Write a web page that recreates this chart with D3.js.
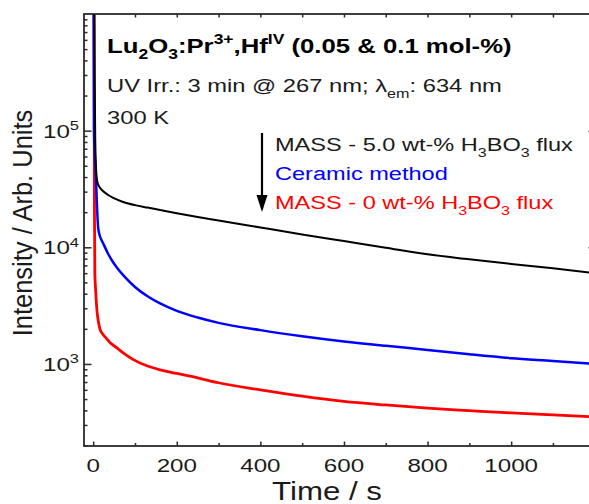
<!DOCTYPE html>
<html><head><meta charset="utf-8">
<script src="https://cdn.jsdelivr.net/npm/d3@7"></script>
<style>html,body{margin:0;padding:0;background:#fff;}svg{display:block;}text{font-family:"Liberation Sans",Arial,sans-serif;}</style>
</head><body>
<svg id="c" width="589" height="504"></svg>
<script>
// ---- data ----
const timeBlack = [2.5, 3.5, 5, 7, 9, 12, 16, 24, 35, 48, 70, 100, 130, 160, 200, 250, 300, 400, 500, 600, 700, 800, 900, 1000, 1100, 1200];
const valBlack  = [3e6, 3e5, 8e4, 4.6e4, 3.8e4, 3.45e4, 3.25e4, 3.02e4, 2.82e4, 2.65e4, 2.46e4, 2.3e4, 2.19e4, 2.09e4, 1.96e4, 1.82e4, 1.7e4, 1.48e4, 1.29e4, 1.13e4, 9900, 8700, 7900, 7200, 6600, 6000];
const timeBlue  = [1, 2, 4, 6.5, 9, 12, 16, 24, 35, 48, 56, 75, 100, 130, 160, 200, 250, 300, 400, 500, 600, 700, 800, 900, 1000, 1100, 1200];
const valBlue   = [3e6, 1e5, 6e4, 4e4, 2.3e4, 1.45e4, 1.25e4, 1.08e4, 8900, 7400, 6750, 5600, 4570, 3800, 3300, 2850, 2500, 2250, 1950, 1730, 1560, 1430, 1320, 1210, 1120, 1060, 1000];
const timeRed   = [1.5, 3, 4, 6, 8, 10, 13, 16, 24, 32, 40, 56, 75, 96, 130, 160, 200, 250, 300, 400, 500, 600, 700, 800, 900, 1000, 1100, 1200];
const valRed    = [3e6, 2e4, 6000, 4200, 3200, 2650, 2250, 2000, 1780, 1650, 1530, 1380, 1220, 1090, 960, 890, 830, 760, 690, 600, 530, 478, 445, 418, 398, 380, 366, 352];
const xMajorTicks = [0, 200, 400, 600, 800, 1000];
const xMinorTicks = [100, 300, 500, 700, 900, 1100];
const yMajorTicks = [1e3, 1e4, 1e5];
const yMajorExp   = ["3", "4", "5"];
const legendLabels = [
  [{t:"MASS - 5.0 wt-% H"},{t:"3",s:"sub"},{t:"BO"},{t:"3",s:"sub"},{t:" flux"}],
  [{t:"Ceramic method"}],
  [{t:"MASS - 0 wt-% H"},{t:"3",s:"sub"},{t:"BO"},{t:"3",s:"sub"},{t:" flux"}]
];
const seriesColors = ["#000000", "#0000ff", "#ff0000"];

// ---- layout ----
const SX = 1.25;
const svg = d3.select("#c");
const L = 84, R = 596, T = 14, B = 446;
const x = d3.scaleLinear().domain([-22, 1203]).range([L, R]);
const y = d3.scaleLog().domain([198, 1e6]).range([B, T]);

function rich(parent, px, py, segs, o) {
  const g = parent.append("g").attr("transform", `translate(${px},${py}) scale(${o.sx||SX},1)` + (o.rot ? ` rotate(${o.rot})` : ""));
  const t = g.append("text").attr("text-anchor", o.anchor || "start")
    .attr("font-size", o.size).attr("font-weight", o.weight || "normal").attr("fill", o.fill || "#1a1a1a");
  let cur = 0;
  segs.forEach(s => {
    const fs = s.s ? o.size * 0.68 : o.size;
    const target = s.s === "sub" ? o.size * 0.3 : s.s === "sup" ? -o.size * 0.42 : 0;
    t.append("tspan").attr("font-size", fs).attr("dy", target - cur).text(s.t);
    cur = target;
  });
  return t;
}

// minor y ticks
const yMinor = [];
[100, 1000, 10000, 100000].forEach(d => { for (let k = 2; k <= 9; k++) { const v = d * k; if (v >= 198 && v <= 1e6) yMinor.push(v); } });

function drawAxis(ax, tr) {
  const g = svg.append("g").attr("transform", tr).call(ax);
  g.select(".domain").remove();
  g.selectAll(".tick line").attr("stroke", "#2a2a2a").attr("stroke-width", 1.5);
  g.selectAll(".tick text").remove();
}
drawAxis(d3.axisBottom(x).tickValues(xMajorTicks).tickSize(-4.5), `translate(0,${B})`);
drawAxis(d3.axisBottom(x).tickValues(xMinorTicks).tickSize(-3), `translate(0,${B})`);
drawAxis(d3.axisTop(x).tickValues(xMajorTicks.concat(xMinorTicks)).tickSize(-3.5), `translate(0,${T})`);
drawAxis(d3.axisLeft(y).tickValues(yMajorTicks).tickSize(-7.5), `translate(${L},0)`);
drawAxis(d3.axisLeft(y).tickValues(yMinor).tickSize(-3.5), `translate(${L},0)`);
drawAxis(d3.axisRight(y).tickValues(yMajorTicks).tickSize(-7.5), `translate(${R},0)`);
drawAxis(d3.axisRight(y).tickValues(yMinor).tickSize(-3.5), `translate(${R},0)`);

// curves
svg.append("clipPath").attr("id", "clip").append("rect").attr("x", L).attr("y", T).attr("width", R - L).attr("height", B - T);
const line = d3.line().x(d => x(d[0])).y(d => y(d[1])).curve(d3.curveMonotoneX);
const series = [
  {t: timeRed, v: valRed, c: seriesColors[2], w: 2.8},
  {t: timeBlue, v: valBlue, c: seriesColors[1], w: 2.5},
  {t: timeBlack, v: valBlack, c: seriesColors[0], w: 2.0}
];
const cg = svg.append("g").attr("clip-path", "url(#clip)");
series.forEach(s => {
  cg.append("path").datum(s.t.map((t, i) => [t, s.v[i]])).attr("d", line)
    .attr("fill", "none").attr("stroke", s.c).attr("stroke-width", s.w).attr("stroke-linejoin", "round");
});

// frame
svg.append("rect").attr("x", L).attr("y", T).attr("width", R - L).attr("height", B - T)
  .attr("fill", "none").attr("stroke", "#2a2a2a").attr("stroke-width", 1.8);

// tick labels
xMajorTicks.forEach(v => rich(svg, x(v), 472, [{t: String(v)}], {size: 18.6, anchor: "middle", sx: 1.3}));
yMajorTicks.forEach((v, i) => rich(svg, 79, y(v) + 7, [{t: "10"}, {t: yMajorExp[i], s: "sup"}], {size: 18.6, anchor: "end", sx: 1.3}));

// axis titles
rich(svg, 327, 500, [{t: "Time / s"}], {size: 25, anchor: "middle", sx: 1.25});
rich(svg, 32, 223, [{t: "Intensity / Arb. Units"}], {size: 25.5, anchor: "middle", sx: 1.1, rot: -90});

// annotations
rich(svg, 107, 53, [{t:"Lu"},{t:"2",s:"sub"},{t:"O"},{t:"3",s:"sub"},{t:":Pr"},{t:"3+",s:"sup"},{t:",Hf"},{t:"IV",s:"sup"},{t:" (0.05 & 0.1 mol-%)"}],
  {size: 20.5, weight: "bold", fill: "#000", sx: 1.255});
rich(svg, 107, 92, [{t:"UV Irr.: 3 min @ 267 nm; λ"},{t:"em",s:"sub"},{t:": 634 nm"}], {size: 19, fill: "#1a1a1a", sx: 1.25});
rich(svg, 107, 124, [{t:"300 K"}], {size: 19, fill: "#1a1a1a", sx: 1.25});

// legend
const legY = [151, 180, 209];
legendLabels.forEach((segs, i) => rich(svg, 275, legY[i], segs, {size: 19, sx: 1.24, fill: seriesColors[i] === "#000000" ? "#1a1a1a" : seriesColors[i]}));
// arrow
svg.append("line").attr("x1", 262).attr("x2", 262).attr("y1", 133).attr("y2", 198).attr("stroke", "#000").attr("stroke-width", 2.2);
svg.append("path").attr("d", d3.line()([[256.5, 195], [267.5, 195], [262, 212]])).attr("fill", "#000");
</script>
</body></html>
